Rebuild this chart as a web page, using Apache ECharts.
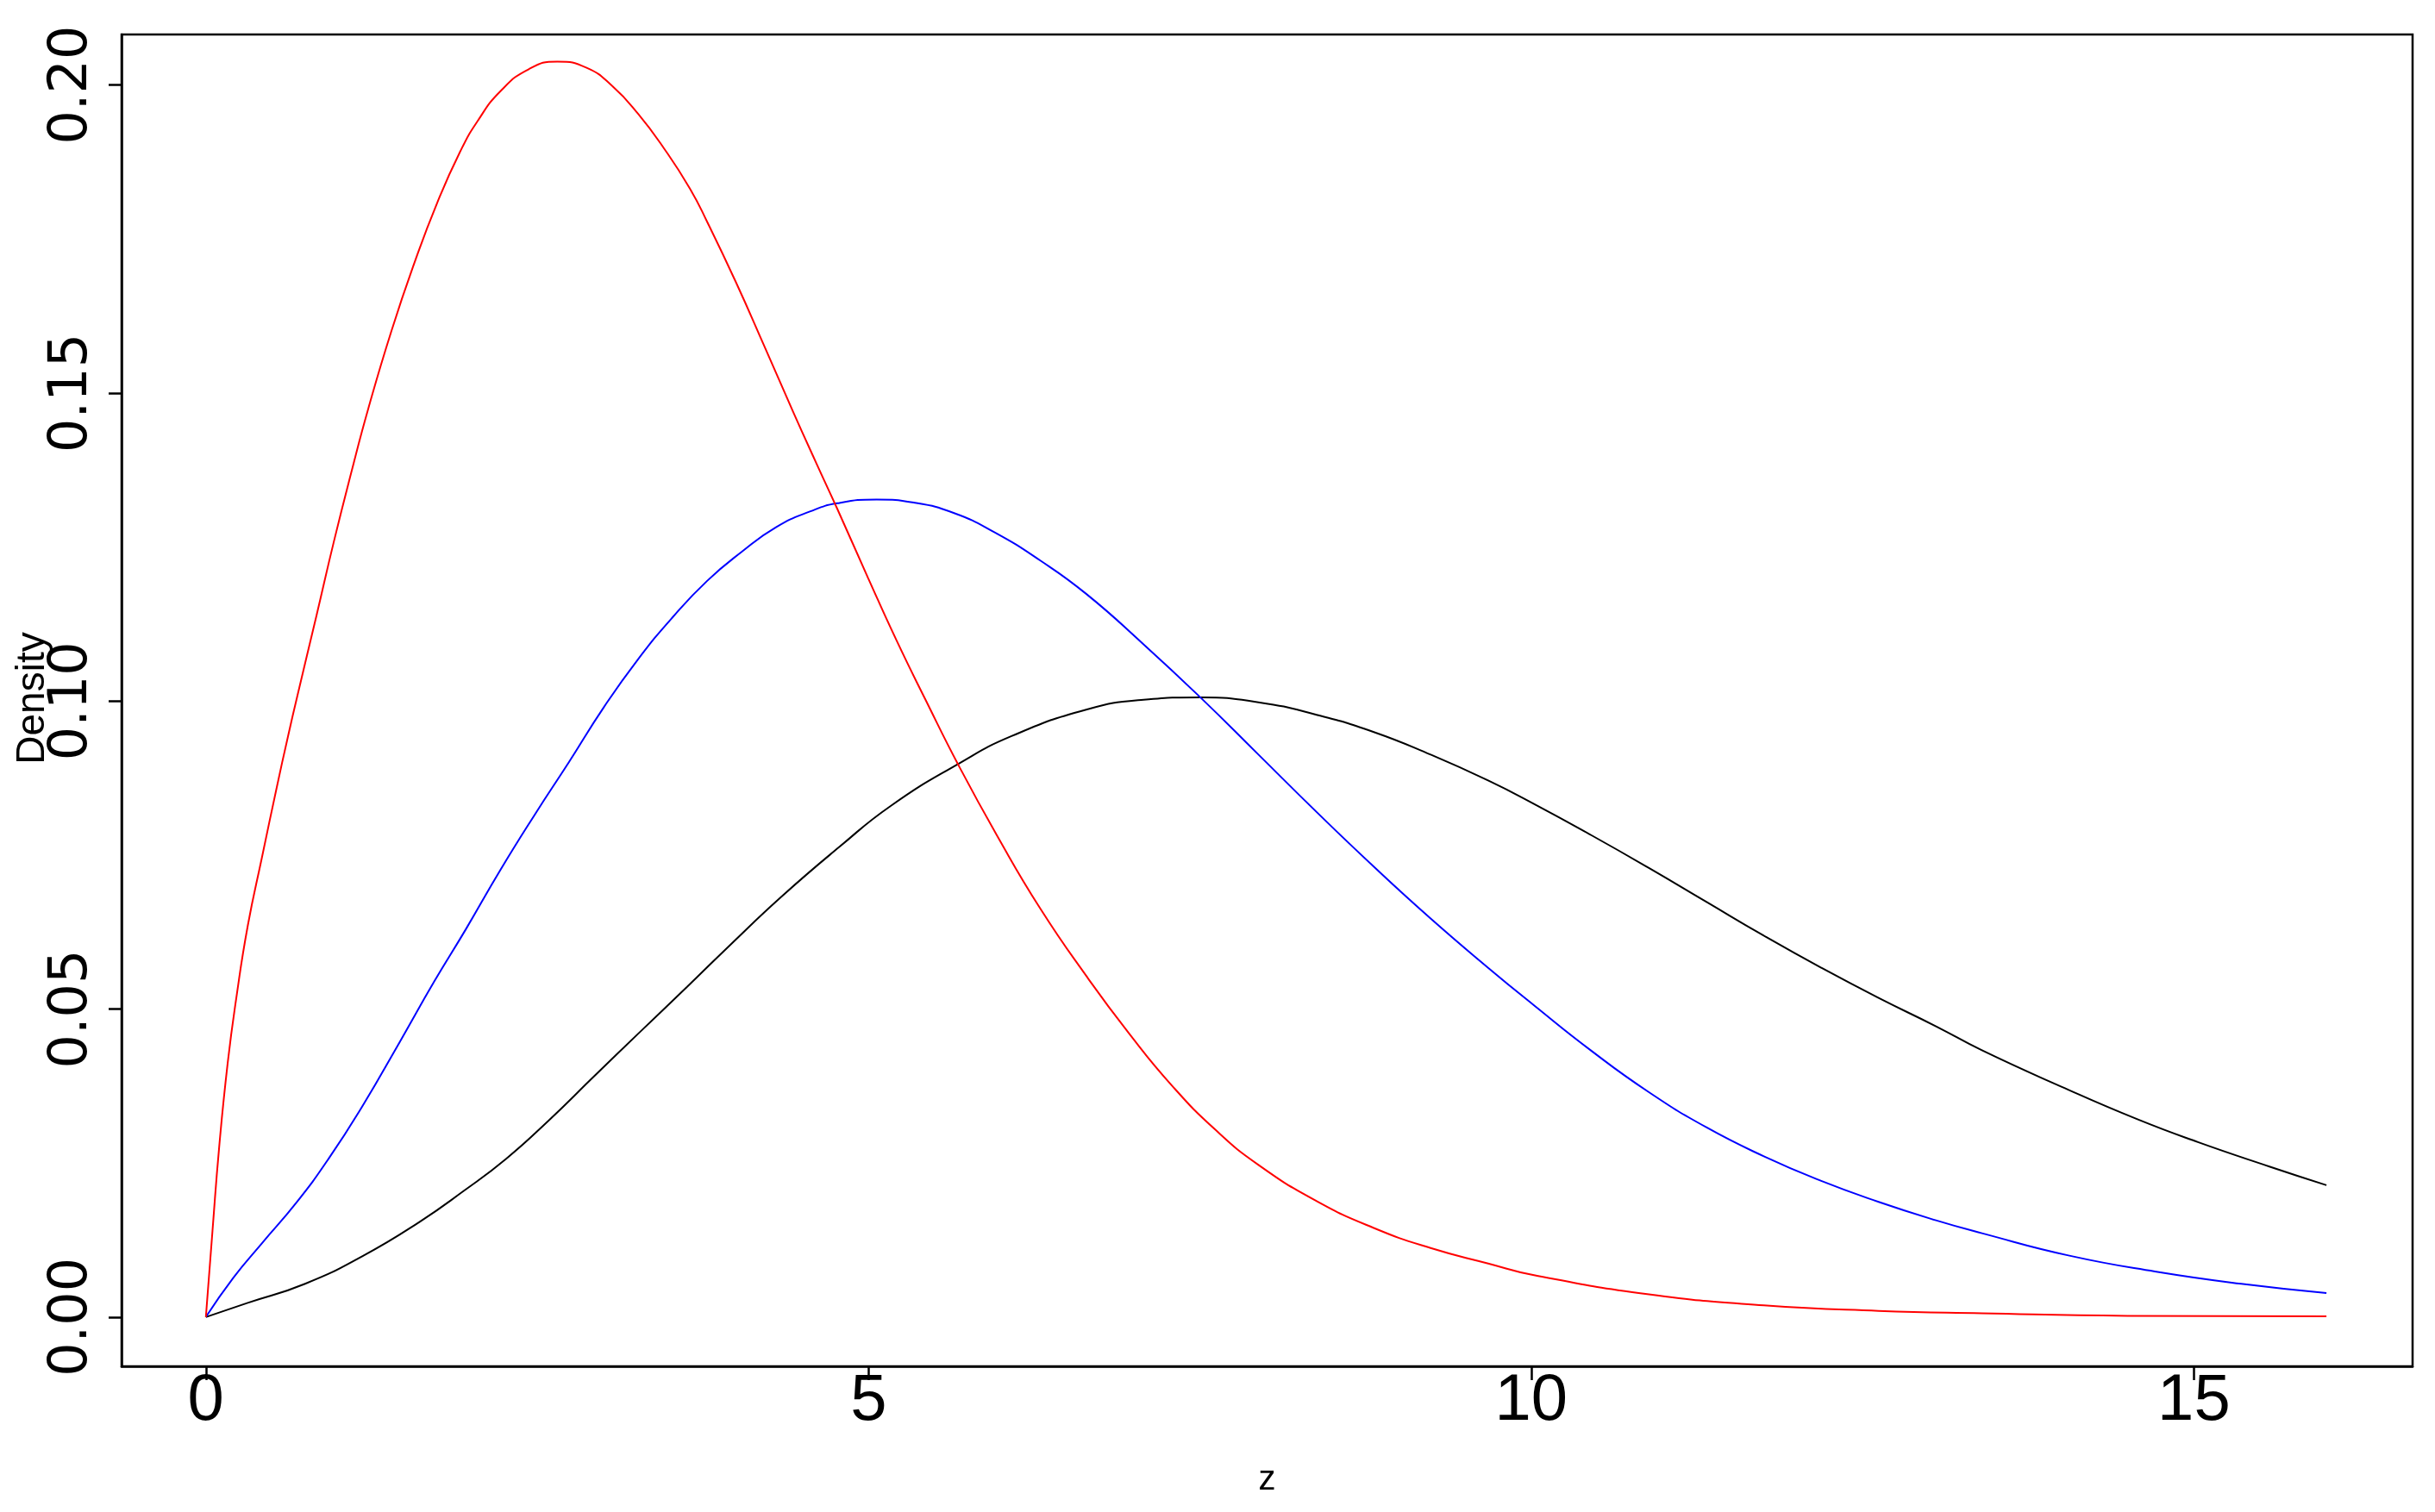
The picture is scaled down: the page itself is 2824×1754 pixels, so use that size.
<!DOCTYPE html>
<html>
<head>
<meta charset="utf-8">
<script src="https://cdn.jsdelivr.net/npm/echarts@6/dist/echarts.min.js"></script>
<style>
  html, body { margin: 0; padding: 0; background: #fff; }
  #chart { width: 2824px; height: 1754px; }
</style>
</head>
<body>
<div id="chart"></div>
<script>
// 读图得到的三条密度曲线 [z, density]
var blackPts = [
  [0, 0], [0.316, 0.0023], [0.749, 0.0054], [1.183, 0.0099], [1.616, 0.0155],
  [1.941, 0.0204], [2.266, 0.0257], [2.591, 0.0320], [2.916, 0.0388], [3.262, 0.0460],
  [3.631, 0.0536], [3.956, 0.0604], [4.346, 0.0683], [4.779, 0.0763], [5.169, 0.0830],
  [5.678, 0.0898], [6.079, 0.0943], [6.642, 0.0986], [7.075, 0.1002], [7.508, 0.1006],
  [7.942, 0.0998], [8.375, 0.0978], [8.808, 0.0950], [9.241, 0.0913], [9.675, 0.0871],
  [10.021, 0.0833], [10.455, 0.0782], [10.888, 0.0729], [11.321, 0.0674], [11.755, 0.0619],
  [12.188, 0.0567], [12.621, 0.0518], [13.054, 0.0472], [13.401, 0.0433], [14.0, 0.0374],
  [14.574, 0.0321], [15.03, 0.0284], [15.574, 0.0244], [16.0, 0.0214]
];
var bluePts = [
  [0, 0], [0.208, 0.0064], [0.424, 0.012], [0.684, 0.0186], [0.923, 0.0256],
  [1.183, 0.0343], [1.464, 0.0447], [1.724, 0.0545], [1.963, 0.0630], [2.223, 0.0726],
  [2.483, 0.0816], [2.743, 0.0902], [3.003, 0.0990], [3.262, 0.1068], [3.522, 0.1136],
  [3.782, 0.1195], [4.042, 0.1242], [4.302, 0.1282], [4.562, 0.1308], [4.764, 0.1321],
  [5.061, 0.1327], [5.342, 0.1322], [5.646, 0.1305], [5.949, 0.1274], [6.296, 0.1228],
  [6.642, 0.1174], [7.075, 0.1092], [7.508, 0.1005], [7.942, 0.0913], [8.375, 0.0821],
  [8.808, 0.0732], [9.241, 0.0647], [9.675, 0.0567], [10.021, 0.0506], [10.455, 0.0432],
  [10.888, 0.0365], [11.321, 0.0308], [11.755, 0.0261], [12.188, 0.0221], [12.621, 0.0187],
  [13.054, 0.0157], [13.401, 0.0136], [14.053, 0.0100], [14.706, 0.0074], [15.357, 0.0054],
  [16.0, 0.0039]
];
var redPts = [
  [0, 0], [0.05, 0.014], [0.1, 0.0275], [0.165, 0.0413], [0.229, 0.0517],
  [0.316, 0.0635], [0.424, 0.0747], [0.533, 0.0858], [0.619, 0.0942], [0.69, 0.1008],
  [0.836, 0.114], [0.966, 0.1259], [1.096, 0.137], [1.226, 0.1475], [1.399, 0.16],
  [1.573, 0.1711], [1.746, 0.1809], [1.919, 0.1892], [2.049, 0.1941], [2.223, 0.199],
  [2.439, 0.2026], [2.652, 0.2038], [2.873, 0.2028], [3.068, 0.1998], [3.262, 0.1953],
  [3.457, 0.1897], [3.652, 0.1832], [3.782, 0.1778], [3.999, 0.1680], [4.216, 0.1575],
  [4.432, 0.1469], [4.606, 0.1386], [4.764, 0.1312], [4.996, 0.1200], [5.212, 0.1098],
  [5.43, 0.1002], [5.678, 0.0896], [5.971, 0.0781], [6.296, 0.0663], [6.642, 0.0554],
  [6.967, 0.0460], [7.292, 0.0375], [7.617, 0.0304], [7.942, 0.0247], [8.375, 0.0189],
  [8.808, 0.0145], [9.241, 0.0112], [9.675, 0.0087], [10.021, 0.0068], [10.888, 0.0037],
  [11.755, 0.0019], [12.621, 0.0010], [13.401, 0.0006], [14.5, 0.0002], [16.0, 0.0001]
];

// 刻度
var xTicks = [0, 5, 10, 15];
var yTicks = [0, 0.05, 0.1, 0.15, 0.2];

var myChart = echarts.init(document.getElementById("chart"));

function curve(name, color, pts) {
  return {
    name: name,
    type: "line",
    data: pts,
    showSymbol: false,
    smooth: 0.5,
    lineStyle: { color: color, width: 2 },
    itemStyle: { color: color },
    z: 3
  };
}

var option = {
  backgroundColor: "#fff",
  animation: false,
  grid: {
    left: 141,
    right: 26,
    top: 40,
    bottom: 169,
    containLabel: false,
    outerBoundsMode: "none",
    show: true,
    borderColor: "#000",
    borderWidth: 2.5,
    backgroundColor: "transparent"
  },
  // y 轴标题单独放，位置贴近原图
  graphic: [
    {
      type: "text",
      x: 38,
      y: 810,
      rotation: Math.PI / 2,
      style: {
        text: "Density",
        fill: "#000",
        fontSize: 46,
        fontFamily: "Liberation Sans, Arial, sans-serif",
        align: "center",
        verticalAlign: "middle"
      }
    }
  ],
  xAxis: {
    type: "value",
    min: -0.636,
    max: 16.65,
    name: "z",
    nameLocation: "middle",
    nameGap: 112,
    nameTextStyle: { color: "#000", fontSize: 40, fontFamily: "Liberation Sans, Arial, sans-serif" },
    axisLine: { show: true, onZero: false, lineStyle: { color: "#000", width: 2.5 } },
    splitLine: { show: false },
    axisTick: {
      show: true,
      inside: false,
      customValues: xTicks,
      length: 16,
      lineStyle: { color: "#000", width: 2.5 }
    },
    axisLabel: {
      customValues: xTicks,
      color: "#000",
      fontSize: 76,
      margin: 3,
      fontFamily: "'Liberation Sans Narrow', 'Liberation Sans', Arial, sans-serif"
    }
  },
  yAxis: {
    type: "value",
    min: -0.008,
    max: 0.2082,
    axisLine: { show: true, onZero: false, lineStyle: { color: "#000", width: 2.5 } },
    splitLine: { show: false },
    axisTick: {
      show: true,
      inside: false,
      customValues: yTicks,
      length: 15,
      lineStyle: { color: "#000", width: 2.5 }
    },
    axisLabel: {
      customValues: yTicks,
      rotate: 90,
      color: "#000",
      fontSize: 62,
      margin: 26,
      fontFamily: "'DejaVu Sans', sans-serif",
      formatter: function (v) { return v.toFixed(2); }
    }
  },
  series: [
    curve("black", "#000000", blackPts),
    curve("blue", "#0000ff", bluePts),
    curve("red", "#ff0000", redPts)
  ]
};

myChart.setOption(option);
</script>
</body>
</html>
